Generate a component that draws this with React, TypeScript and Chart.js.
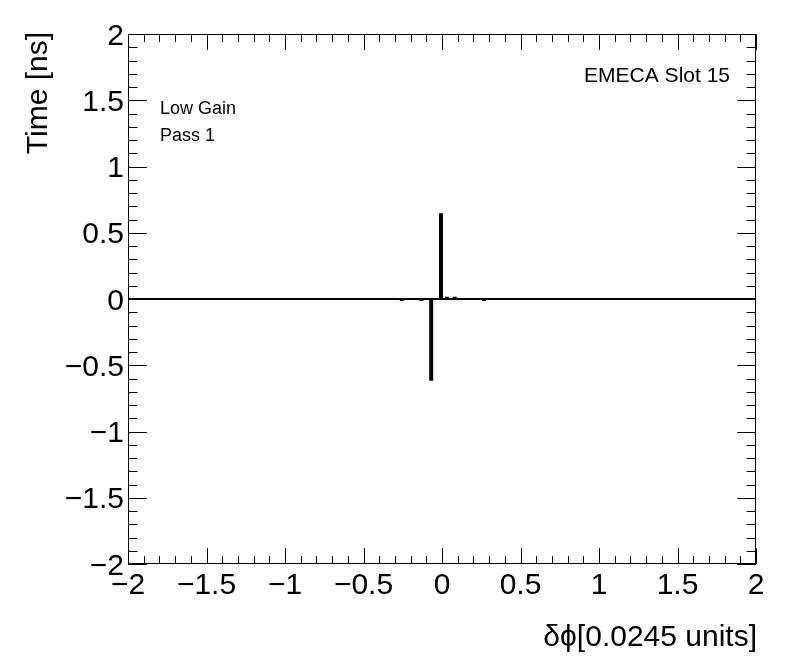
import React, { useEffect, useRef } from "react";
import { Chart, registerables } from "chart.js";

Chart.register(...registerables);

// Histogram: only non-empty bins listed (all other bins are 0)
const binWidth = 0.0125;
const binLows = [-0.2625, -0.1375, -0.075, -0.0125, 0.025, 0.075, 0.2625];
const binValues = [-0.008, -0.008, -0.61, 0.64, 0.01, 0.01, -0.008];

const xRange = [-2, 2];
const yRange = [-2, 2];
const xMajorTicks = [-2, -1.5, -1, -0.5, 0, 0.5, 1, 1.5, 2];
const xTickLabels = ["\u22122", "\u22121.5", "\u22121", "\u22120.5", "0", "0.5", "1", "1.5", "2"];
const yMajorTicks = [-2, -1.5, -1, -0.5, 0, 0.5, 1, 1.5, 2];
const yTickLabels = ["\u22122", "\u22121.5", "\u22121", "\u22120.5", "0", "0.5", "1", "1.5", "2"];
const minorDivisions = 5;

const xTitle = "\u03B4\u03D5[0.0245 units]";
const yTitle = "Time [ns]";
const labelTopRight = "EMECA Slot 15";
const labelsTopLeft = ["Low Gain", "Pass 1"];

const FONT = '"Liberation Sans", Arial, Helvetica, sans-serif';

function buildSteps() {
  const pts: { x: number; y: number }[] = [{ x: xRange[0], y: 0 }];
  binLows.forEach((lo, i) => {
    const hi = lo + binWidth;
    pts.push({ x: lo, y: 0 }, { x: lo, y: binValues[i] }, { x: hi, y: binValues[i] }, { x: hi, y: 0 });
  });
  pts.push({ x: xRange[1], y: 0 });
  return pts;
}

const framePlugin = {
  id: "rootFrame",
  afterDatasetsDraw(chart: any) {
    const ctx = chart.ctx as CanvasRenderingContext2D;
    const { left, right, top, bottom } = chart.chartArea;
    const xs = chart.scales.x;
    const ys = chart.scales.y;
    ctx.save();
    ctx.strokeStyle = "#000";
    ctx.lineWidth = 1;
    ctx.strokeRect(Math.round(left) + 0.5, Math.round(top) + 0.5, Math.round(right - left) - 1, Math.round(bottom - top) - 1);

    const h = bottom - top;
    const w = right - left;
    const xMaj = 0.03 * h;
    const yMaj = 0.03 * w;
    ctx.beginPath();
    // x ticks
    for (let i = 0; i < xMajorTicks.length; i++) {
      const v = xMajorTicks[i];
      const px = Math.round(xs.getPixelForValue(v)) + 0.5;
      ctx.moveTo(px, bottom); ctx.lineTo(px, bottom - xMaj);
      ctx.moveTo(px, top); ctx.lineTo(px, top + xMaj);
      if (i < xMajorTicks.length - 1) {
        const step = (xMajorTicks[i + 1] - v) / minorDivisions;
        for (let k = 1; k < minorDivisions; k++) {
          const mx = Math.round(xs.getPixelForValue(v + k * step)) + 0.5;
          ctx.moveTo(mx, bottom); ctx.lineTo(mx, bottom - xMaj / 2);
          ctx.moveTo(mx, top); ctx.lineTo(mx, top + xMaj / 2);
        }
      }
    }
    // y ticks
    for (let i = 0; i < yMajorTicks.length; i++) {
      const v = yMajorTicks[i];
      const py = Math.round(ys.getPixelForValue(v)) + 0.5;
      ctx.moveTo(left, py); ctx.lineTo(left + yMaj, py);
      ctx.moveTo(right, py); ctx.lineTo(right - yMaj, py);
      if (i < yMajorTicks.length - 1) {
        const step = (yMajorTicks[i + 1] - v) / minorDivisions;
        for (let k = 1; k < minorDivisions; k++) {
          const my = Math.round(ys.getPixelForValue(v + k * step)) + 0.5;
          ctx.moveTo(left, my); ctx.lineTo(left + yMaj / 2, my);
          ctx.moveTo(right, my); ctx.lineTo(right - yMaj / 2, my);
        }
      }
    }
    ctx.stroke();

    // tick labels
    ctx.fillStyle = "#000";
    const fs = 30;
    ctx.font = `${fs}px ${FONT}`;
    ctx.textBaseline = "alphabetic";
    ctx.textAlign = "center";
    xMajorTicks.forEach((v, i) => {
      ctx.fillText(xTickLabels[i], xs.getPixelForValue(v), bottom + 30);
    });
    ctx.textAlign = "right";
    yMajorTicks.forEach((v, i) => {
      ctx.fillText(yTickLabels[i], left - 4, ys.getPixelForValue(v) + fs * 0.716 / 2);
    });

    // axis titles
    ctx.textAlign = "right";
    ctx.fillText(xTitle, right + 1, bottom + 82);
    ctx.save();
    ctx.translate(47, top - 2);
    ctx.rotate(-Math.PI / 2);
    ctx.textAlign = "right";
    ctx.fillText(yTitle, 0, 0);
    ctx.restore();

    // annotations
    ctx.font = `21px ${FONT}`;
    ctx.textAlign = "right";
    ctx.fillText(labelTopRight, 730, 82);
    ctx.font = `18px ${FONT}`;
    ctx.textAlign = "left";
    ctx.fillText(labelsTopLeft[0], 160, 114);
    ctx.fillText(labelsTopLeft[1], 160, 141);
    ctx.restore();
  },
};

export default function App() {
  const ref = useRef<HTMLCanvasElement | null>(null);
  useEffect(() => {
    document.body.style.margin = "0";
    const canvas = ref.current!;
    const chart = new Chart(canvas, {
      type: "line",
      data: {
        datasets: [
          {
            data: buildSteps(),
            borderColor: "#000",
            borderWidth: 2,
            pointRadius: 0,
            tension: 0,
            fill: false,
            borderJoinStyle: "miter",
          },
        ],
      },
      options: {
        animation: false,
        responsive: false,
        devicePixelRatio: 1,
        parsing: false,
        layout: { padding: { left: 128, right: 40, top: 34, bottom: 108 } },
        plugins: { legend: { display: false }, tooltip: { enabled: false }, title: { display: false } },
        scales: {
          x: { type: "linear", min: xRange[0], max: xRange[1], display: false },
          y: { type: "linear", min: yRange[0], max: yRange[1], display: false },
        },
      },
      plugins: [framePlugin],
    });
    return () => chart.destroy();
  }, []);
  return (
    <div style={{ width: 796, height: 672, background: "#fff" }}>
      <canvas ref={ref} width={796} height={672} style={{ display: "block" }} />
    </div>
  );
}
